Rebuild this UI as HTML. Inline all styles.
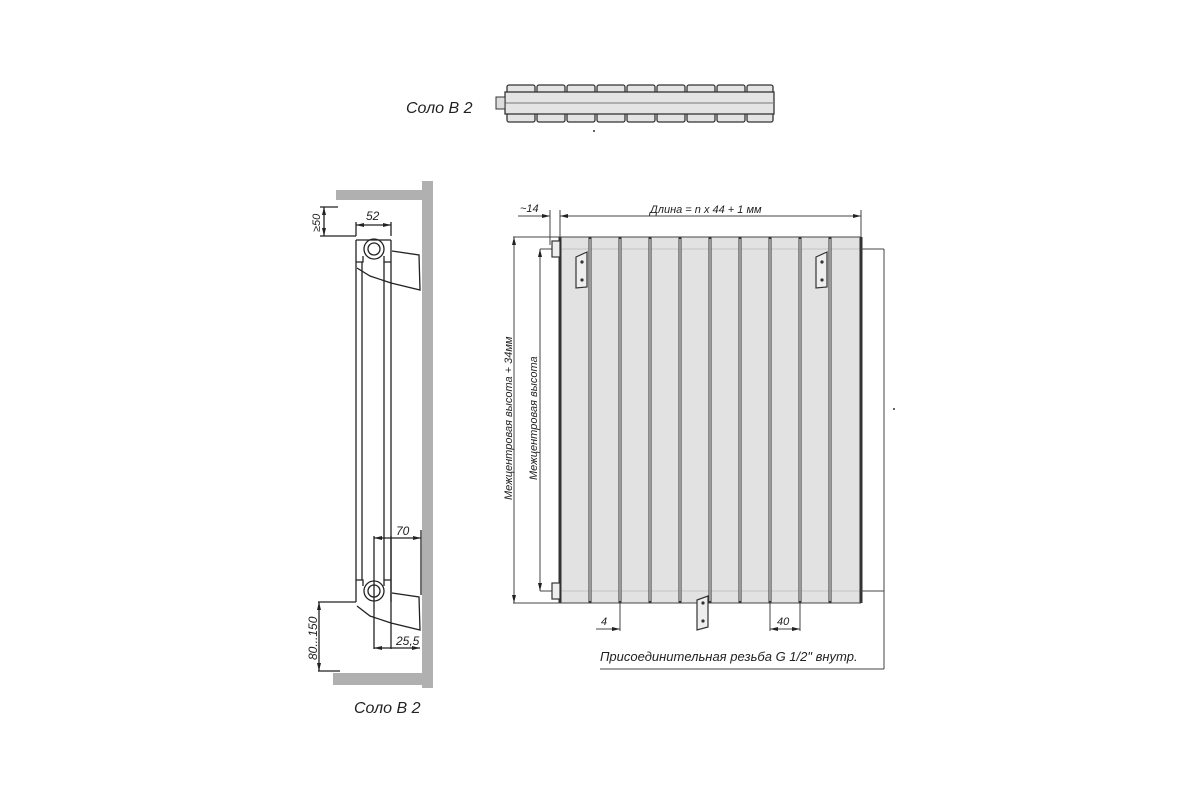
<!DOCTYPE html>
<html><head><meta charset="utf-8"><style>
html,body{margin:0;padding:0;background:#fff;width:1200px;height:800px;overflow:hidden}
svg{display:block}
text{font-family:"Liberation Sans",sans-serif;font-style:italic;fill:#222}
</style></head><body>
<svg width="1200" height="800" viewBox="0 0 1200 800" xmlns="http://www.w3.org/2000/svg">
<defs>
<marker id="a" markerWidth="8" markerHeight="6" refX="8" refY="3" orient="auto-start-reverse" markerUnits="userSpaceOnUse"><path d="M0,1 L8,3 L0,5z" fill="#222"/></marker>
</defs>
<!-- top view -->
<text x="406" y="113" font-size="16">Соло В 2</text>
<g fill="#e4e4e4" stroke="#333" stroke-width="1.3">
<g id="tb">
<rect x="507" y="85" width="28" height="9" rx="2"/><rect x="537" y="85" width="28" height="9" rx="2"/><rect x="567" y="85" width="28" height="9" rx="2"/><rect x="597" y="85" width="28" height="9" rx="2"/><rect x="627" y="85" width="28" height="9" rx="2"/><rect x="657" y="85" width="28" height="9" rx="2"/><rect x="687" y="85" width="28" height="9" rx="2"/><rect x="717" y="85" width="28" height="9" rx="2"/><rect x="747" y="85" width="26" height="9" rx="2"/>
</g>
<use href="#tb" y="28"/>
<rect x="505" y="92" width="269" height="22"/>
</g>
<line x1="505" y1="103" x2="774" y2="103" stroke="#777" stroke-width="1"/>
<rect x="496" y="97" width="9" height="12" fill="#ddd" stroke="#333"/>
<circle cx="594" cy="131" r="1" fill="#333"/>

<!-- side view -->
<g fill="#b0b0b0">
<rect x="422" y="181" width="11" height="507"/>
<rect x="336" y="190" width="97" height="10"/>
<rect x="333" y="673" width="100" height="12"/>
</g>
<g stroke="#222" stroke-width="1.3" fill="none">
<line x1="356" y1="240" x2="356" y2="602"/><line x1="362" y1="262" x2="362" y2="580"/>
<line x1="384" y1="262" x2="384" y2="580"/><line x1="391" y1="240" x2="391" y2="602"/>
<line x1="356" y1="240" x2="391" y2="240"/>
<path d="M356 262 h7 v-6 M391 262 h-7 v-6 M356 580 h7 v6 M391 580 h-7 v6"/>
<circle cx="374" cy="249" r="10"/><circle cx="374" cy="249" r="6"/>
<circle cx="374" cy="591" r="10"/><circle cx="374" cy="591" r="6"/>
<path d="M392 251 L419 255 L420 290 L391 283 L370 276 L357 268"/>
<path d="M392 593 L419 597 L420 630 L391 623 L370 616 L357 606"/>
<line x1="320" y1="207" x2="338" y2="207"/><line x1="320" y1="236" x2="356" y2="236"/>
<line x1="324" y1="207" x2="324" y2="236" marker-start="url(#a)" marker-end="url(#a)"/>
<line x1="356" y1="236" x2="356" y2="222"/><line x1="391" y1="236" x2="391" y2="222"/>
<line x1="356" y1="225" x2="391" y2="225" marker-start="url(#a)" marker-end="url(#a)"/>
<line x1="318" y1="602" x2="356" y2="602"/><line x1="318" y1="671" x2="340" y2="671"/>
<line x1="319" y1="602" x2="319" y2="671" marker-start="url(#a)" marker-end="url(#a)"/>
<line x1="374" y1="536" x2="374" y2="649"/><line x1="391" y1="536" x2="391" y2="649"/>
<line x1="421" y1="530" x2="421" y2="595"/>
<line x1="374" y1="538" x2="421" y2="538" marker-start="url(#a)" marker-end="url(#a)"/>
<line x1="374" y1="648" x2="420" y2="648" marker-start="url(#a)" marker-end="url(#a)"/>
</g>
<text x="0" y="0" font-size="11" transform="translate(320 232) rotate(-90)">≥50</text>
<text x="366" y="220" font-size="12" font-style="normal">52</text>
<text x="396" y="535" font-size="12">70</text>
<text x="396" y="645" font-size="12">25,5</text>
<text x="0" y="0" font-size="12" transform="translate(317 660) rotate(-90)">80...150</text>
<text x="354" y="713" font-size="16">Соло В 2</text>

<!-- front view -->
<rect x="560" y="237" width="301" height="366" fill="#e2e2e2"/>
<g stroke="#c4c4c4" stroke-width="1"><line x1="560" y1="249" x2="861" y2="249"/><line x1="560" y1="591" x2="861" y2="591"/></g>
<g stroke="#333" stroke-width="3">
<line x1="560" y1="237" x2="560" y2="603"/><line x1="861" y1="237" x2="861" y2="603"/>
<line x1="590" y1="237" x2="590" y2="603"/><line x1="620" y1="237" x2="620" y2="603"/><line x1="650" y1="237" x2="650" y2="603"/><line x1="680" y1="237" x2="680" y2="603"/><line x1="710" y1="237" x2="710" y2="603"/><line x1="740" y1="237" x2="740" y2="603"/><line x1="770" y1="237" x2="770" y2="603"/><line x1="800" y1="237" x2="800" y2="603"/><line x1="830" y1="237" x2="830" y2="603"/>
</g>
<g stroke="#fff" stroke-width="1">
<line x1="590" y1="239" x2="590" y2="601"/><line x1="620" y1="239" x2="620" y2="601"/><line x1="650" y1="239" x2="650" y2="601"/><line x1="680" y1="239" x2="680" y2="601"/><line x1="710" y1="239" x2="710" y2="601"/><line x1="740" y1="239" x2="740" y2="601"/><line x1="770" y1="239" x2="770" y2="601"/><line x1="800" y1="239" x2="800" y2="601"/><line x1="830" y1="239" x2="830" y2="601"/>
</g>
<g stroke="#444" stroke-width="1" fill="none">
<line x1="513" y1="237" x2="861" y2="237"/><line x1="513" y1="603" x2="861" y2="603"/>
<line x1="540" y1="249" x2="560" y2="249"/><line x1="540" y1="591" x2="560" y2="591"/>
<line x1="861" y1="249" x2="884" y2="249"/><line x1="861" y1="591" x2="884" y2="591"/>
<line x1="884" y1="249" x2="884" y2="669"/><line x1="600" y1="669" x2="884" y2="669"/>
<line x1="514" y1="237" x2="514" y2="603" marker-start="url(#a)" marker-end="url(#a)"/>
<line x1="540" y1="249" x2="540" y2="591" marker-start="url(#a)" marker-end="url(#a)"/>
<line x1="550" y1="210" x2="550" y2="245"/><line x1="560" y1="210" x2="560" y2="237"/>
<line x1="861" y1="210" x2="861" y2="237"/>
<line x1="518" y1="216" x2="550" y2="216" marker-end="url(#a)"/>
<line x1="560" y1="216" x2="861" y2="216" marker-start="url(#a)" marker-end="url(#a)"/>
<line x1="620" y1="603" x2="620" y2="631"/><line x1="596" y1="629" x2="620" y2="629" marker-end="url(#a)"/>
<line x1="770" y1="603" x2="770" y2="631"/><line x1="800" y1="603" x2="800" y2="631"/>
<line x1="770" y1="629" x2="800" y2="629" marker-start="url(#a)" marker-end="url(#a)"/>
</g>
<g fill="#eee" stroke="#333" stroke-width="1.2">
<rect x="552" y="241" width="8" height="16"/><rect x="552" y="583" width="8" height="16"/>
<path d="M576 257 L587 252 L587 287 L576 288z"/><path d="M816 257 L827 252 L827 287 L816 288z"/>
<path d="M697 600 L708 596 L708 627 L697 630z"/>
</g>
<g fill="#333"><circle cx="582" cy="262" r="1.6"/><circle cx="582" cy="280" r="1.6"/><circle cx="822" cy="262" r="1.6"/><circle cx="822" cy="280" r="1.6"/><circle cx="703" cy="603" r="1.6"/><circle cx="703" cy="621" r="1.6"/><circle cx="894" cy="409" r="1"/></g>
<text x="520" y="212" font-size="11">~14</text>
<text x="650" y="213" font-size="11">Длина = n x 44 + 1 мм</text>
<text x="0" y="0" font-size="11" transform="translate(512 500) rotate(-90)">Межцентровая высота + 34мм</text>
<text x="0" y="0" font-size="11" transform="translate(537 480) rotate(-90)">Межцентровая высота</text>
<text x="601" y="625" font-size="11">4</text>
<text x="777" y="625" font-size="11">40</text>
<text x="600" y="661" font-size="13">Присоединительная резьба G 1/2" внутр.</text>
</svg>
</body></html>
